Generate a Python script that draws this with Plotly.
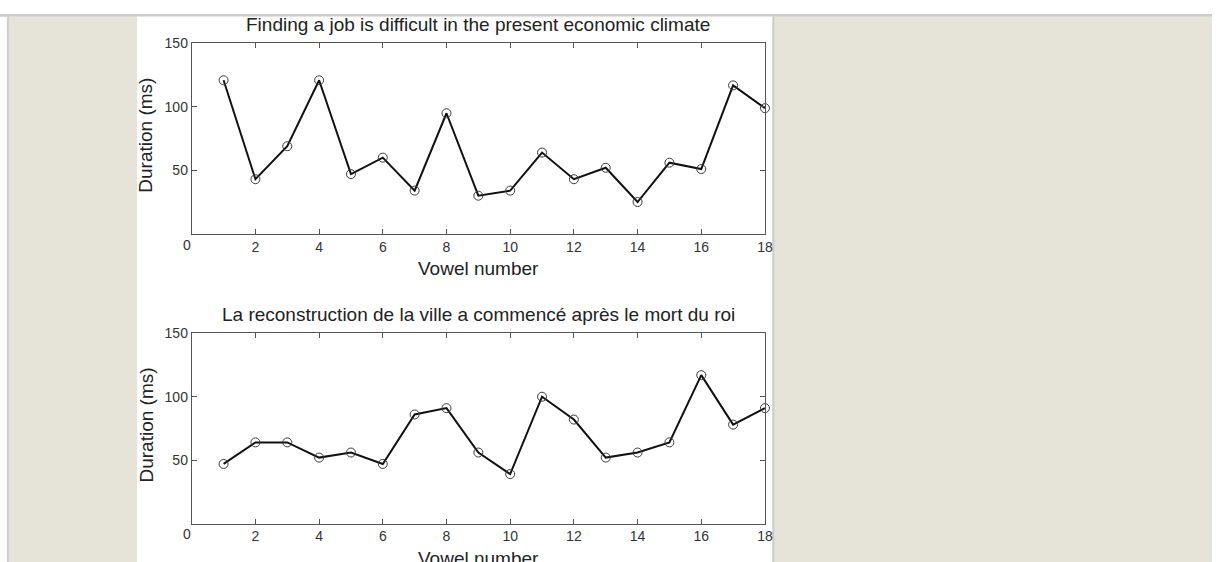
import plotly.graph_objects as go

# Vowel durations for two read sentences
vowel_number = list(range(1, 19))
english_ms = [121, 43, 69, 121, 47, 60, 34, 95, 30, 34, 64, 43, 52, 25, 56, 51, 117, 99]
french_ms = [47, 64, 64, 52, 56, 47, 86, 91, 56, 39, 100, 82, 52, 56, 64, 117, 78, 91]

english_title = "Finding a job is difficult in the present economic climate"
french_title = "La reconstruction de la ville a commencé après le mort du roi"
x_label = "Vowel number"
y_label = "Duration (ms)"
x_tick_vals = [2, 4, 6, 8, 10, 12, 14, 16, 18]
y_tick_vals = [50, 100, 150]

W, H = 1220, 562
FONT = "Liberation Sans, Arial, Helvetica, sans-serif"
TEXT = "#222222"
AXIS = "#555555"
BEIGE = "#e6e3d8"
BORDER = "#cccccc"


def px(x):
    return x / W


def py(y):
    return 1 - y / H


fig = go.Figure()

for vals, ax in [(english_ms, ""), (french_ms, "2")]:
    fig.add_trace(go.Scatter(
        x=vowel_number, y=vals, mode="lines+markers",
        xaxis="x" + ax, yaxis="y" + ax,
        line=dict(color="#111111", width=2),
        marker=dict(symbol="circle-open", size=9, color="#3a3a3a",
                    line=dict(width=1)),
        cliponaxis=False, hoverinfo="x+y",
    ))

axis_common = dict(
    showline=True, linecolor=AXIS, linewidth=1, mirror="ticks",
    ticks="inside", ticklen=5, tickcolor=AXIS, tickwidth=1,
    showgrid=False, zeroline=False,
    tickfont=dict(family=FONT, size=14, color="#333333"),
)

# axes boxes in pixel space: (left, right, top, bottom)
boxes = [(193, 770, 36, 229), (193, 770, 330, 523)]

layout_axes = {}
for i, (l, r, t, b) in enumerate(boxes):
    s = "" if i == 0 else "2"
    layout_axes["xaxis" + s] = dict(axis_common, domain=[px(l), px(r)], range=[0, 18],
                                    tickvals=x_tick_vals, anchor="y" + s)
    layout_axes["yaxis" + s] = dict(axis_common, domain=[py(b), py(t)], range=[0, 150],
                                    tickvals=y_tick_vals, anchor="x" + s)

annotations = []
titles = [english_title, french_title]
for i, (l, r, t, b) in enumerate(boxes):
    cx = (l + r) / 2
    annotations.append(dict(text=titles[i], x=px(cx), y=py(t - 19), xref="paper", yref="paper",
                            showarrow=False, xanchor="center", yanchor="middle",
                            font=dict(family=FONT, size=19, color=TEXT)))
    annotations.append(dict(text=x_label, x=px(cx), y=py(b + 35), xref="paper", yref="paper",
                            showarrow=False, xanchor="center", yanchor="middle",
                            font=dict(family=FONT, size=19, color=TEXT)))
    annotations.append(dict(text=y_label, x=px(147), y=py((t + b) / 2 - 3), xref="paper", yref="paper",
                            showarrow=False, xanchor="center", yanchor="middle", textangle=-90,
                            font=dict(family=FONT, size=19, color=TEXT)))
    annotations.append(dict(text="0", x=px(188), y=py(b + 11), xref="paper", yref="paper",
                            showarrow=False, xanchor="center", yanchor="middle",
                            font=dict(family=FONT, size=14, color="#333333")))

shapes = [
    # page frame
    dict(type="rect", xref="paper", yref="paper", x0=0, x1=1, y0=py(9), y1=py(6),
         fillcolor=BORDER, line_width=0, layer="below"),
    dict(type="rect", xref="paper", yref="paper", x0=px(7), x1=px(9), y0=0, y1=py(6),
         fillcolor=BORDER, line_width=0, layer="below"),
    dict(type="rect", xref="paper", yref="paper", x0=px(9), x1=1, y0=0, y1=py(9),
         fillcolor=BEIGE, line_width=0, layer="below"),
    # white figure panel
    dict(type="rect", xref="paper", yref="paper", x0=px(138), x1=px(777.5), y0=0, y1=py(9),
         fillcolor="white", line_width=0, layer="below"),
    dict(type="rect", xref="paper", yref="paper", x0=px(777.5), x1=px(779.5), y0=0, y1=py(9),
         fillcolor=BORDER, line_width=0, layer="below"),
]

fig.update_layout(
    width=W, height=H, margin=dict(l=0, r=0, t=0, b=0),
    paper_bgcolor="white", plot_bgcolor="rgba(0,0,0,0)",
    showlegend=False, annotations=annotations, shapes=shapes,
    **layout_axes,
)

fig.write_html("out.html")
